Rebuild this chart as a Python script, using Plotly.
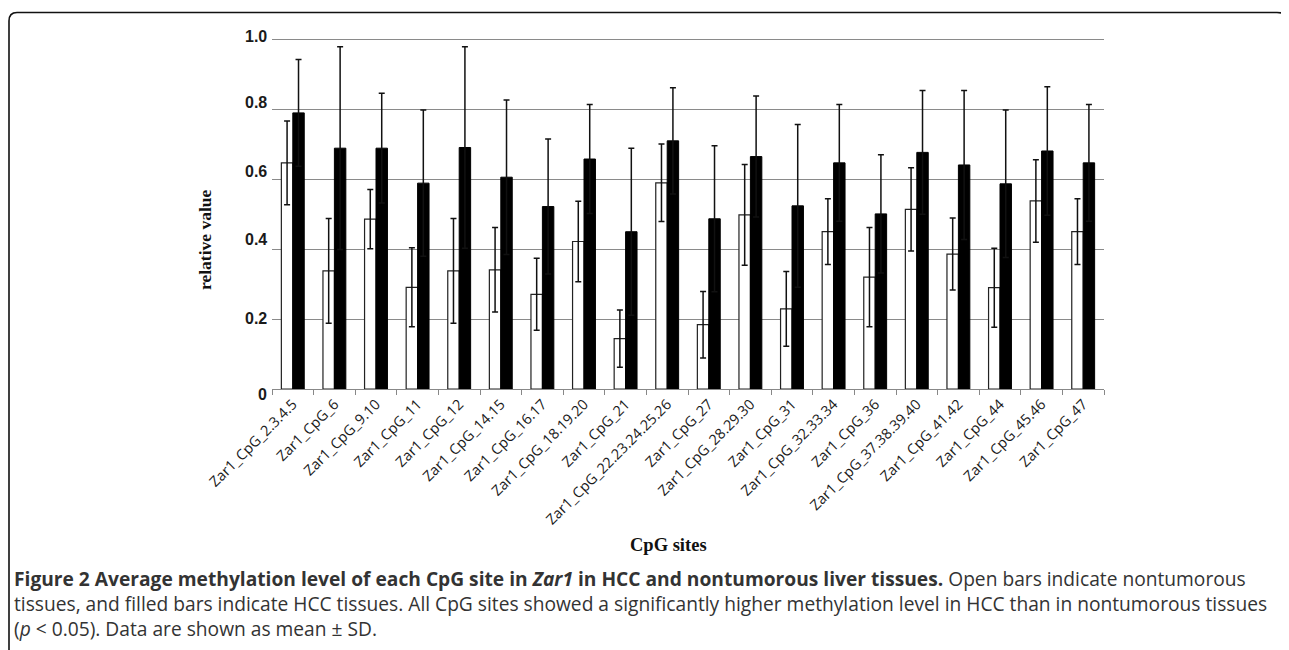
import plotly.graph_objects as go

# ---------------- data ----------------
categories = ["Zar1_CpG_2.3.4.5", "Zar1_CpG_6", "Zar1_CpG_9.10", "Zar1_CpG_11", "Zar1_CpG_12",
              "Zar1_CpG_14.15", "Zar1_CpG_16.17", "Zar1_CpG_18.19.20", "Zar1_CpG_21",
              "Zar1_CpG_22.23.24.25.26", "Zar1_CpG_27", "Zar1_CpG_28.29.30", "Zar1_CpG_31",
              "Zar1_CpG_32.33.34", "Zar1_CpG_36", "Zar1_CpG_37.38.39.40", "Zar1_CpG_41.42",
              "Zar1_CpG_44", "Zar1_CpG_45.46", "Zar1_CpG_47"]
nontumor = [0.647, 0.338, 0.486, 0.291, 0.338, 0.341, 0.271, 0.422, 0.144, 0.590,
            0.184, 0.498, 0.229, 0.450, 0.320, 0.514, 0.386, 0.290, 0.538, 0.450]
nontumor_sd = [0.120, 0.150, 0.085, 0.113, 0.150, 0.121, 0.103, 0.115, 0.082, 0.111,
               0.095, 0.144, 0.107, 0.094, 0.142, 0.119, 0.103, 0.113, 0.118, 0.094]
hcc = [0.790, 0.689, 0.689, 0.589, 0.691, 0.606, 0.522, 0.658, 0.450, 0.710,
       0.487, 0.665, 0.524, 0.647, 0.501, 0.677, 0.641, 0.587, 0.681, 0.647]
hcc_sd = [0.153, 0.290, 0.157, 0.209, 0.288, 0.221, 0.193, 0.156, 0.239, 0.152,
          0.209, 0.173, 0.233, 0.167, 0.169, 0.177, 0.213, 0.211, 0.184, 0.167]
ytick_vals = [0, 0.2, 0.4, 0.6, 0.8, 1.0]
ytick_text = ["0", "0.2", "0.4", "0.6", "0.8", "1.0"]

caption_lines = [
    "<b>Figure 2 Average methylation level of each CpG site in <i>Zar1</i> in HCC and nontumorous liver tissues.</b> Open bars indicate nontumorous",
    "tissues, and filled bars indicate HCC tissues. All CpG sites showed a significantly higher methylation level in HCC than in nontumorous tissues",
    "(<i>p</i> &lt; 0.05). Data are shown as mean ± SD.",
]

# ---------------- layout geometry (screen pixels; page body has an 8px margin) ----------------
OFF = 8
W, H = 1289, 650
PLOT_L, PLOT_R, PLOT_T, PLOT_B = 272, 1104, 29, 389   # plot area on screen
ML = PLOT_L - OFF
MT = PLOT_T - OFF
MR = W - (PLOT_R - OFF)
MB = H - (PLOT_B - OFF)
PW, PH = W - ML - MR, H - MT - MB
YMAX = 1.03


def paper(px, py):
    """screen pixel -> paper coordinates"""
    fx, fy = px - OFF, py - OFF
    return (fx - ML) / PW, (MT + PH - fy) / PH


fig = go.Figure()
fig.add_trace(go.Bar(
    x=categories, y=nontumor, name="Nontumorous",
    marker=dict(color="white", line=dict(color="#222", width=1.2)),
    error_y=dict(type="data", array=nontumor_sd, color="#111", thickness=1.5, width=3),
))
fig.add_trace(go.Bar(
    x=categories, y=hcc, name="HCC",
    marker=dict(color="black", line=dict(color="black", width=1)),
    error_y=dict(type="data", array=hcc_sd, color="#111", thickness=1.5, width=3),
))

# y tick labels (annotations so they follow the reference's offsets)
label_shift = [-5, 1, 10, 8, 7, 3]
annotations = []
for v, t, s in zip(ytick_vals, ytick_text, label_shift):
    annotations.append(dict(x=0, xref="paper", y=v, yref="y", text=f"<b>{t}</b>", showarrow=False,
                            xanchor="right", yanchor="middle", xshift=-3, yshift=s,
                            font=dict(family="Liberation Sans", size=16, color="#1a1a1a")))

# axis titles
ax, ay = paper(205, 240)
annotations.append(dict(x=ax, y=ay, xref="paper", yref="paper", text="<b>relative value</b>",
                        textangle=-90, showarrow=False, xanchor="center", yanchor="middle",
                        font=dict(family="Liberation Serif", size=17.5, color="#111")))
bx, by = paper(668, 545)
annotations.append(dict(x=bx, y=by, xref="paper", yref="paper", text="<b>CpG sites</b>",
                        showarrow=False, xanchor="center", yanchor="middle",
                        font=dict(family="Liberation Serif", size=18.5, color="#111")))

# caption (one wrapped text block)
cx, cy = paper(12, 603)
annotations.append(dict(x=cx, y=cy, xref="paper", yref="paper", text="<br>".join(caption_lines),
                        showarrow=False, xanchor="left", yanchor="middle", align="left",
                        font=dict(family="Open Sans", size=19.2, color="#333")))

# frame with rounded top corners
x0, y0 = paper(9, 660)
x1, y1 = paper(9, 21)
x2, y2 = paper(9, 12.5)
x3, y3 = paper(17, 12.5)
x4, y4 = paper(1277, 12.5)
x5, y5 = paper(1287, 12.5)
x6, y6 = paper(1289, 22)
frame_path = (f"M {x0},{y0} L {x1},{y1} Q {x2},{y2} {x3},{y3} "
              f"L {x4},{y4} Q {x5},{y5} {x6},{y6}")

fig.update_layout(
    width=W, height=H,
    margin=dict(l=ML, r=MR, t=MT, b=MB),
    paper_bgcolor="white", plot_bgcolor="white",
    barmode="group", bargap=0.45, bargroupgap=0,
    showlegend=False,
    xaxis=dict(type="category", showgrid=False, showline=True, linecolor="#888", linewidth=1.3,
               ticks="outside", tickson="boundaries", ticklen=5, tickcolor="#888", tickwidth=1.3,
               tickangle=-45, tickfont=dict(family="Open Sans", size=14.5, color="#1a1a1a")),
    yaxis=dict(range=[0, YMAX], tickvals=ytick_vals, showticklabels=False, showgrid=True,
               gridcolor="#8a8a8a", gridwidth=1.3, zeroline=False, showline=False, ticks=""),
    annotations=annotations,
    shapes=[dict(type="path", path=frame_path, xref="paper", yref="paper",
                 line=dict(color="#111", width=1.6), layer="above")],
)

fig.write_html("out.html")
